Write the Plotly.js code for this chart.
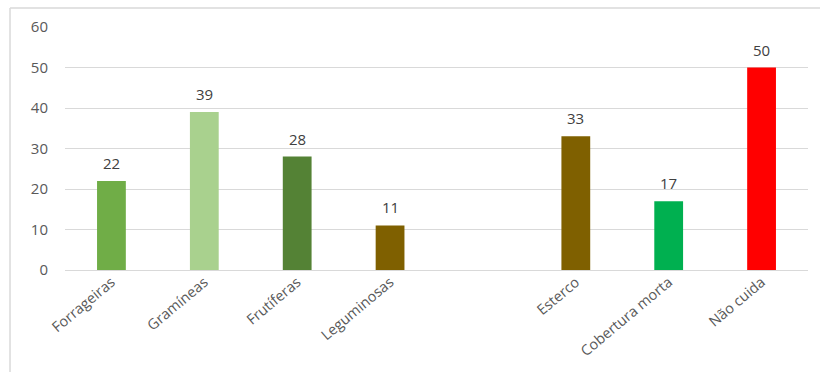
<!DOCTYPE html>
<html>
<head>
<meta charset="utf-8">
<script src="https://cdn.plot.ly/plotly-3.0.1.min.js"></script>
<style>
html,body{margin:0;padding:0;background:#fff;}
#chart{width:820px;height:372px;}
</style>
</head>
<body>
<div id="chart"></div>
<script>
const categories = ["Forrageiras", "Gramíneas", "Frutíferas", "Leguminosas", " ", "Esterco", "Cobertura morta", "Não cuida"];
const values = [22, 39, 28, 11, null, 33, 17, 50];
const barColors = ["#70AD47", "#A9D18E", "#548235", "#7F6000", "#ffffff", "#7F6000", "#00B050", "#FF0000"];
const yTicks = [0, 10, 20, 30, 40, 50, 60];

const trace = {
  type: "bar",
  x: categories,
  y: values,
  marker: {color: barColors},
  hoverinfo: "x+y"
};

const annotations = categories.map((c, i) => values[i] == null ? null : ({
  x: c, y: values[i], xref: "x", yref: "y",
  text: String(values[i]), showarrow: false,
  yanchor: "bottom", yshift: 6,
  font: {family: "Open Sans, sans-serif", size: 15, color: "#404040"}
})).filter(a => a);

const layout = {
  width: 820, height: 372,
  margin: {l: 65, r: 12, t: 27, b: 102},
  paper_bgcolor: "#ffffff",
  plot_bgcolor: "#ffffff",
  showlegend: false,
  bargap: 0.69,
  font: {family: "Open Sans, sans-serif", color: "#595959"},
  xaxis: {
    type: "category",
    tickangle: -40,
    tickfont: {size: 14.5, color: "#595959"},
    showgrid: false,
    zeroline: false,
    showline: false,
    ticks: "",
    automargin: false
  },
  yaxis: {
    range: [0, 60],
    tickvals: yTicks,
    ticktext: yTicks.map(String),
    tickfont: {size: 15, color: "#595959"},
    ticklabelstandoff: 16,
    gridcolor: "#d9d9d9",
    gridwidth: 1,
    zeroline: true,
    zerolinecolor: "#d9d9d9",
    zerolinewidth: 1,
    showline: false,
    ticks: "",
    automargin: false
  },
  annotations: annotations,
  shapes: [
    {type: "line", xref: "paper", yref: "paper", x0: -0.074, x1: -0.074, y0: 1.078, y1: -0.45, line: {color: "#d9d9d9", width: 1.5}},
    {type: "line", xref: "paper", yref: "paper", x0: -0.074, x1: 1.05, y0: 1.078, y1: 1.078, line: {color: "#d9d9d9", width: 1.5}}
  ]
};

Plotly.newPlot("chart", [trace], layout, {displayModeBar: false, staticPlot: true});
</script>
</body>
</html>
